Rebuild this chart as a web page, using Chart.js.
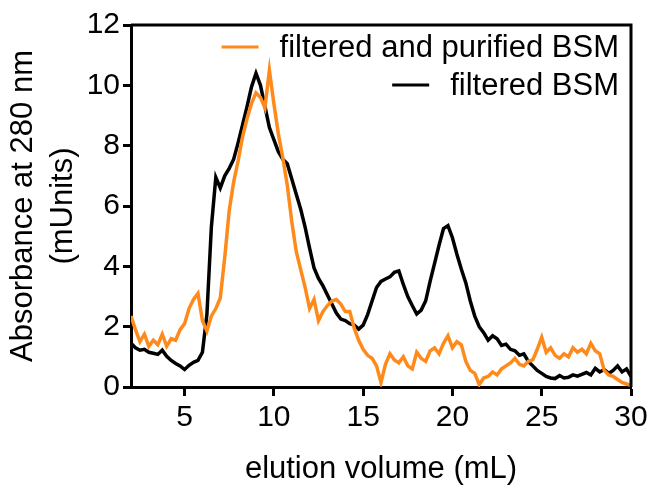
<!DOCTYPE html>
<html>
<head>
<meta charset="utf-8">
<script src="https://cdn.jsdelivr.net/npm/chart.js@4.4.1/dist/chart.umd.min.js"></script>
<style>
  body { margin: 0; background: #fff; }
  #wrap { width: 652px; height: 488px; }
</style>
</head>
<body>
<div id="wrap"><canvas id="mycanvas" width="652" height="488"></canvas></div>
<script>
// elution volume (mL), read every 0.25 mL
var volume = [2,2.25,2.5,2.75,3,3.25,3.5,3.75,4,4.25,4.5,4.75,5,5.25,5.5,5.75,6,6.25,6.5,6.75,
  7,7.25,7.5,7.75,8,8.25,8.5,8.75,9,9.25,9.5,9.75,10,10.25,10.5,10.75,11,11.25,11.5,11.75,
  12,12.25,12.5,12.75,13,13.25,13.5,13.75,14,14.25,14.5,14.75,15,15.25,15.5,15.75,16,16.25,16.5,16.75,
  17,17.25,17.5,17.75,18,18.25,18.5,18.75,19,19.25,19.5,19.75,20,20.25,20.5,20.75,21,21.25,21.5,21.75,
  22,22.25,22.5,22.75,23,23.25,23.5,23.75,24,24.25,24.5,24.75,25,25.25,25.5,25.75,26,26.25,26.5,26.75,
  27,27.25,27.5,27.75,28,28.25,28.5,28.75,29,29.25,29.5,29.75,30];

var purified = [2.35,1.9,1.5,1.75,1.35,1.55,1.4,1.75,1.35,1.6,1.55,1.9,2.1,2.6,2.9,3.1,2.2,1.85,2.35,2.6,
  2.95,4.3,5.85,6.8,7.5,8.3,8.9,9.4,9.75,9.6,9.25,10.5,9.4,8.4,7.6,6.7,5.5,4.5,3.9,3.3,
  2.6,2.9,2.2,2.5,2.7,2.85,2.9,2.75,2.5,2.5,1.95,1.55,1.25,1.05,0.95,0.7,0.15,0.75,1.1,0.9,
  0.8,1.0,0.7,0.6,1.15,0.95,0.85,1.2,1.3,1.1,1.45,1.7,1.3,1.5,1.4,0.85,0.55,0.45,0.08,0.3,
  0.35,0.5,0.4,0.6,0.7,0.8,0.95,0.75,0.7,0.85,0.9,1.25,1.65,1.15,1.3,1.05,0.95,1.1,1.0,1.3,
  1.15,1.25,1.1,1.45,1.2,1.1,0.55,0.4,0.35,0.25,0.15,0.1,0.05];

var filtered = [1.45,1.3,1.22,1.25,1.15,1.12,1.08,1.22,1.02,0.88,0.78,0.7,0.58,0.72,0.82,0.88,1.15,2.4,5.3,6.95,
  6.6,7.0,7.25,7.55,8.1,8.7,9.3,9.95,10.4,10.0,9.3,8.6,8.2,7.8,7.55,7.4,6.9,6.4,5.9,5.3,
  4.6,3.95,3.6,3.35,3.05,2.75,2.45,2.25,2.2,2.1,2.05,1.92,2.05,2.4,2.85,3.3,3.5,3.58,3.65,3.8,
  3.85,3.4,3.0,2.7,2.42,2.55,2.85,3.5,4.1,4.7,5.25,5.35,4.95,4.4,3.9,3.45,2.85,2.35,2.0,1.8,
  1.55,1.7,1.6,1.38,1.42,1.25,1.2,1.05,1.1,0.85,0.7,0.55,0.45,0.35,0.3,0.28,0.38,0.3,0.32,0.4,
  0.36,0.42,0.48,0.4,0.62,0.5,0.58,0.45,0.55,0.7,0.5,0.6,0.35];

var xTicks = [5, 10, 15, 20, 25, 30];
var yTicks = [0, 2, 4, 6, 8, 10, 12];

function toPoints(ys) {
  return ys.map(function(y, i) { return {x: volume[i], y: y}; });
}

var font = "'Liberation Sans', Arial, sans-serif";

// box around the plot and the legend inside it
var framePlugin = {
  id: 'frame',
  afterDraw: function(chart) {
    var ctx = chart.ctx;
    var a = chart.chartArea;
    ctx.save();
    ctx.strokeStyle = '#000';
    ctx.lineWidth = 3;
    ctx.beginPath();
    ctx.moveTo(a.left, a.top);
    ctx.lineTo(a.right, a.top);
    ctx.lineTo(a.right, a.bottom);
    ctx.stroke();

    ctx.font = '31px ' + font;
    ctx.textAlign = 'right';
    ctx.textBaseline = 'middle';
    var rows = [47, 85];
    chart.data.datasets.forEach(function(ds, i) {
      var y = rows[i];
      var w = ctx.measureText(ds.label).width;
      var textRight = 619;
      var lineEnd = textRight - w - 21;
      ctx.strokeStyle = ds.borderColor;
      ctx.lineWidth = 3;
      ctx.beginPath();
      ctx.moveTo(lineEnd - 37, y);
      ctx.lineTo(lineEnd, y);
      ctx.stroke();
      ctx.fillStyle = '#000';
      ctx.fillText(ds.label, textRight, y + 1);
    });
    ctx.restore();
  }
};

var ctx = document.getElementById('mycanvas');

var chart = new Chart(ctx, {
  type: 'line',
  data: {
    datasets: [
      {
        label: 'filtered and purified BSM',
        data: toPoints(purified),
        borderColor: '#ff8a1c',
        borderWidth: 3.5,
        pointRadius: 0,
        tension: 0
      },
      {
        label: 'filtered BSM',
        data: toPoints(filtered),
        borderColor: '#000000',
        borderWidth: 3.5,
        pointRadius: 0,
        tension: 0
      }
    ]
  },
  options: {
    responsive: false,
    animation: false,
    layout: { padding: { top: 25, right: 21, left: 0, bottom: 0 } },
    plugins: {
      legend: { display: false },
      tooltip: { enabled: false }
    },
    scales: {
      x: {
        type: 'linear',
        min: 2,
        max: 30,
        afterFit: function(scale) { scale.height = 101; },
        afterBuildTicks: function(scale) {
          scale.ticks = xTicks.map(function(v) { return {value: v}; });
        },
        border: { display: true, color: '#000', width: 3 },
        grid: { display: true, drawOnChartArea: false, drawTicks: true, tickLength: 9, tickWidth: 3, color: '#000' },
        ticks: { color: '#000', padding: 4, maxRotation: 0, font: { family: font, size: 30 } },
        title: {
          display: true,
          text: 'elution volume (mL)',
          color: '#000',
          padding: { top: 0, bottom: 0 },
          font: { family: font, size: 31, lineHeight: 1.2 }
        }
      },
      y: {
        min: 0,
        max: 12,
        afterFit: function(scale) { scale.width = 131; },
        afterBuildTicks: function(scale) {
          scale.ticks = yTicks.map(function(v) { return {value: v}; });
        },
        border: { display: true, color: '#000', width: 3 },
        grid: { display: true, drawOnChartArea: false, drawTicks: true, tickLength: 8, tickWidth: 3, color: '#000' },
        ticks: { color: '#000', padding: 3, font: { family: font, size: 30 } },
        title: {
          display: true,
          text: ['Absorbance at 280 nm', '(mUnits)'],
          color: '#000',
          padding: { top: 3, bottom: 0 },
          font: { family: font, size: 31, lineHeight: 1.29 }
        }
      }
    }
  },
  plugins: [framePlugin]
});
</script>
</body>
</html>
